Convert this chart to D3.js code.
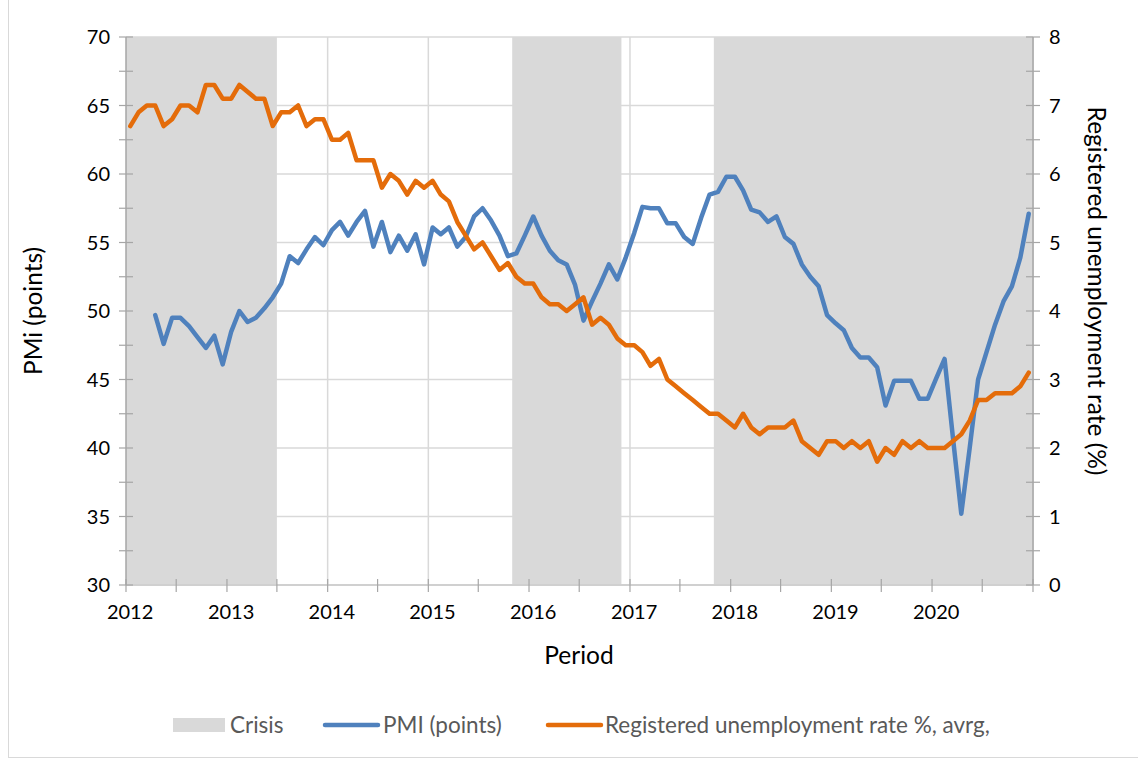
<!DOCTYPE html>
<html>
<head>
<meta charset="utf-8">
<script src="https://cdn.jsdelivr.net/npm/d3@7"></script>
<style>
  body { margin: 0; background: #fff; }
  svg text { font-family: Lato, "Open Sans", sans-serif; }
</style>
</head>
<body>
<svg id="chart" width="1138" height="760"></svg>
<script>
// maanadsdata fraan jan 2012 till dec 2020
const pmi = [
  null, null, null, 49.7, 47.6, 49.5, 49.5, 48.9, 48.1, 47.3, 48.2, 46.1,
  48.5, 50.0, 49.2, 49.5, 50.2, 51.0, 52.0, 54.0, 53.5, 54.5, 55.4, 54.8,
  55.9, 56.5, 55.5, 56.5, 57.3, 54.7, 56.5, 54.3, 55.5, 54.4, 55.6, 53.4,
  56.1, 55.6, 56.1, 54.7, 55.4, 56.9, 57.5, 56.6, 55.5, 54.0, 54.2, 55.5,
  56.9, 55.5, 54.4, 53.7, 53.4, 51.9, 49.3, 50.7, 52.0, 53.4, 52.3, 53.9,
  55.7, 57.6, 57.5, 57.5, 56.4, 56.4, 55.4, 54.9, 56.8, 58.5, 58.7, 59.8,
  59.8, 58.8, 57.4, 57.2, 56.5, 56.9, 55.4, 54.9, 53.4, 52.5, 51.8, 49.7,
  49.1, 48.6, 47.3, 46.6, 46.6, 45.9, 43.1, 44.9, 44.9, 44.9, 43.6, 43.6,
  45.1, 46.5, 40.8, 35.2, 40.0, 45.0, 47.0, 49.0, 50.7, 51.8, 53.9, 57.1
];

const unemployment = [
  6.7, 6.9, 7.0, 7.0, 6.7, 6.8, 7.0, 7.0, 6.9, 7.3, 7.3, 7.1,
  7.1, 7.3, 7.2, 7.1, 7.1, 6.7, 6.9, 6.9, 7.0, 6.7, 6.8, 6.8,
  6.5, 6.5, 6.6, 6.2, 6.2, 6.2, 5.8, 6.0, 5.9, 5.7, 5.9, 5.8,
  5.9, 5.7, 5.6, 5.3, 5.1, 4.9, 5.0, 4.8, 4.6, 4.7, 4.5, 4.4,
  4.4, 4.2, 4.1, 4.1, 4.0, 4.1, 4.2, 3.8, 3.9, 3.8, 3.6, 3.5,
  3.5, 3.4, 3.2, 3.3, 3.0, 2.9, 2.8, 2.7, 2.6, 2.5, 2.5, 2.4,
  2.3, 2.5, 2.3, 2.2, 2.3, 2.3, 2.3, 2.4, 2.1, 2.0, 1.9, 2.1,
  2.1, 2.0, 2.1, 2.0, 2.1, 1.8, 2.0, 1.9, 2.1, 2.0, 2.1, 2.0,
  2.0, 2.0, 2.1, 2.2, 2.4, 2.7, 2.7, 2.8, 2.8, 2.8, 2.9, 3.1
];

// krisperioder (foersta och sista maanad, inklusive)
const crisisFrom = ["2012-01", "2015-11", "2017-11"];
const crisisTo = ["2013-06", "2016-11", "2020-12"];

const years = [2012, 2013, 2014, 2015, 2016, 2017, 2018, 2019, 2020];
const leftTicks = [30, 35, 40, 45, 50, 55, 60, 65, 70];
const rightTicks = [0, 1, 2, 3, 4, 5, 6, 7, 8];

const svg = d3.select("#chart");
const parseMonth = d3.timeParse("%Y-%m");

const x = d3.scaleTime()
  .domain([new Date(2012, 0, 1), new Date(2021, 0, 1)])
  .range([126, 1033]);
const yL = d3.scaleLinear().domain([30, 70]).range([585, 37]);
const yR = d3.scaleLinear().domain([0, 8]).range([585, 37]);

const monthMid = i => {
  const a = new Date(2012, i, 1), b = new Date(2012, i + 1, 1);
  return new Date((+a + +b) / 2);
};

// ram runt diagrammet
svg.append("rect")
  .attr("x", 8.5).attr("y", -2)
  .attr("width", 1140).attr("height", 759.5)
  .attr("fill", "none").attr("stroke", "#d9d9d9");

// stoedlinjer
const gGrid = svg.append("g");
gGrid.selectAll("line.h")
  .data(leftTicks.slice(1))
  .join("line")
  .attr("x1", 126).attr("x2", 1033)
  .attr("y1", d => yL(d)).attr("y2", d => yL(d))
  .attr("stroke", "#d9d9d9").attr("stroke-width", 1.5);
gGrid.selectAll("line.v")
  .data(years.slice(1).concat([2021]))
  .join("line")
  .attr("x1", d => x(new Date(d, 0, 1))).attr("x2", d => x(new Date(d, 0, 1)))
  .attr("y1", 37).attr("y2", 585)
  .attr("stroke", "#d9d9d9").attr("stroke-width", 1.5);

// krisomraaden
svg.append("g").selectAll("rect")
  .data(crisisFrom.map((f, i) => ({ from: parseMonth(f), to: d3.timeMonth.offset(parseMonth(crisisTo[i]), 1) })))
  .join("rect")
  .attr("x", d => x(d.from))
  .attr("width", d => x(d.to) - x(d.from))
  .attr("y", yL(70))
  .attr("height", yL(30) - yL(70))
  .attr("fill", "#d9d9d9");

// axlar
const axisColor = "#a6a6a6";
svg.append("line")
  .attr("x1", 126).attr("x2", 1033).attr("y1", 585).attr("y2", 585)
  .attr("stroke", "#d0d0d0").attr("stroke-width", 2);
svg.append("line")
  .attr("x1", 126).attr("x2", 126).attr("y1", 37).attr("y2", 585)
  .attr("stroke", axisColor).attr("stroke-width", 1.5);
svg.append("line")
  .attr("x1", 1033).attr("x2", 1033).attr("y1", 37).attr("y2", 585)
  .attr("stroke", axisColor).attr("stroke-width", 1.5);

const halfYears = d3.timeMonth.every(6).range(new Date(2012, 0, 1), new Date(2021, 0, 2));
svg.append("g").selectAll("line")
  .data(halfYears)
  .join("line")
  .attr("x1", d => x(d)).attr("x2", d => x(d))
  .attr("y1", 579).attr("y2", 592)
  .attr("stroke", axisColor).attr("stroke-width", 1.2);

svg.append("g").selectAll("line")
  .data(d3.range(30, 70.01, 2.5))
  .join("line")
  .attr("x1", 119).attr("x2", 133)
  .attr("y1", d => yL(d)).attr("y2", d => yL(d))
  .attr("stroke", axisColor).attr("stroke-width", 1.2);

svg.append("g").selectAll("line")
  .data(d3.range(0, 8.01, 0.5))
  .join("line")
  .attr("x1", 1026).attr("x2", 1040)
  .attr("y1", d => yR(d)).attr("y2", d => yR(d))
  .attr("stroke", axisColor).attr("stroke-width", 1.2);

// etiketter
const labelSize = 20;
const titleSize = 24.5;
svg.append("g").selectAll("text")
  .data(leftTicks)
  .join("text")
  .attr("x", 110).attr("y", d => yL(d))
  .attr("dy", "0.35em")
  .attr("text-anchor", "end")
  .style("font-size", `${labelSize}px`)
  .attr("fill", "#000")
  .text(d => d);

svg.append("g").selectAll("text")
  .data(rightTicks)
  .join("text")
  .attr("x", 1049).attr("y", d => yR(d))
  .attr("dy", "0.35em")
  .style("font-size", `${labelSize}px`)
  .attr("fill", "#000")
  .text(d => d);

svg.append("g").selectAll("text")
  .data(years)
  .join("text")
  .attr("x", d => x(new Date(d, 0, 16)))
  .attr("y", 619)
  .attr("text-anchor", "middle")
  .style("font-size", `${labelSize}px`)
  .attr("fill", "#000")
  .text(d => d);

svg.append("text")
  .attr("x", 579).attr("y", 664)
  .attr("text-anchor", "middle")
  .style("font-size", `${titleSize}px`)
  .attr("fill", "#000")
  .text("Period");

svg.append("text")
  .attr("transform", "translate(42,311) rotate(-90)")
  .attr("text-anchor", "middle")
  .style("font-size", `${titleSize}px`)
  .attr("fill", "#000")
  .text("PMi (points)");

svg.append("text")
  .attr("transform", "translate(1088,291) rotate(90)")
  .attr("text-anchor", "middle")
  .style("font-size", `${titleSize}px`)
  .attr("fill", "#000")
  .text("Registered unemployment rate (%)");

// linjer
const linePmi = d3.line()
  .defined(d => d != null)
  .x((d, i) => x(monthMid(i)))
  .y(d => yL(d));
const lineUnemp = d3.line()
  .x((d, i) => x(monthMid(i)))
  .y(d => yR(d));

svg.append("path")
  .attr("d", linePmi(pmi))
  .attr("fill", "none")
  .attr("stroke", "#4f81bd")
  .attr("stroke-width", 4.5)
  .attr("stroke-linejoin", "round")
  .attr("stroke-linecap", "round");

svg.append("path")
  .attr("d", lineUnemp(unemployment))
  .attr("fill", "none")
  .attr("stroke", "#e46c0a")
  .attr("stroke-width", 4.5)
  .attr("stroke-linejoin", "round")
  .attr("stroke-linecap", "round");

// teckenfoerklaring
const legend = svg.append("g").style("font-size", "22.5px").attr("fill", "#595959");
legend.append("rect")
  .attr("x", 173).attr("y", 718).attr("width", 52).attr("height", 14)
  .attr("fill", "#d9d9d9");
legend.append("text").attr("x", 230).attr("y", 733).text("Crisis");
legend.append("line")
  .attr("x1", 325).attr("x2", 378).attr("y1", 725).attr("y2", 725)
  .attr("stroke", "#4f81bd").attr("stroke-width", 4.5).attr("stroke-linecap", "round");
legend.append("text").attr("x", 383).attr("y", 733).text("PMI (points)");
legend.append("line")
  .attr("x1", 548).attr("x2", 601).attr("y1", 725).attr("y2", 725)
  .attr("stroke", "#e46c0a").attr("stroke-width", 4.5).attr("stroke-linecap", "round");
legend.append("text").attr("x", 605).attr("y", 733).text("Registered unemployment rate %, avrg,");
</script>
</body>
</html>
